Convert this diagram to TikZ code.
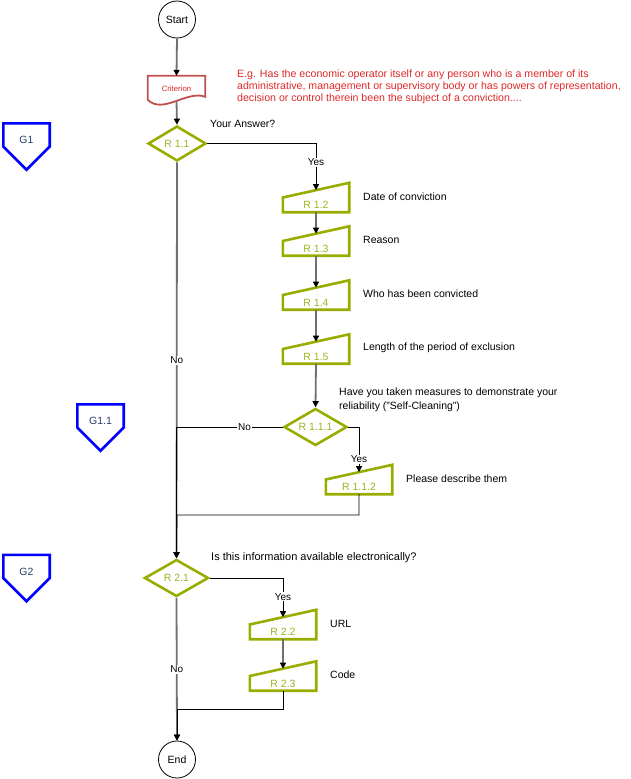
\documentclass[tikz,border=0pt]{standalone}
\usepackage{fontspec}
\setmainfont{Liberation Sans}
\usetikzlibrary{shapes.geometric,arrows.meta,calc}
\definecolor{qolive}{RGB}{153,172,0}
\definecolor{qtxt}{RGB}{155,181,30}
\definecolor{qcrit}{RGB}{192,80,77}
\definecolor{qred}{RGB}{222,40,40}
\definecolor{qblue}{RGB}{0,0,255}
\definecolor{qnavy}{RGB}{40,60,110}
\definecolor{qgray}{RGB}{112,112,112}

\begin{document}
\begin{tikzpicture}[
 x=1pt,y=-1pt,
 every node/.style={font=\fontsize{10.5}{13.5}\selectfont},
 term/.style={draw,circle,minimum size=37pt,inner sep=0pt,line width=.8pt},
 ask/.style={diamond,draw=qolive,line width=2.6pt,minimum width=63pt,minimum height=37pt,
  inner sep=0pt,shape aspect=1.65,text=qtxt},
 inp/.style={minimum width=66pt,minimum height=29pt,inner sep=0pt},
 inpline/.style={draw=qolive,line width=2.6pt},
 rtxt/.style={text=qtxt,inner sep=0pt},
 grp/.style={minimum width=46pt,minimum height=46pt,inner sep=0pt},
 grpline/.style={draw=qblue,line width=2.6pt,line join=miter},
 gtxt/.style={text=qnavy,inner sep=0pt},
 trunk/.style={draw=qgray,line width=1.8pt,-{Triangle[length=6pt,width=6pt,color=black]}},
 conn/.style={line width=.8pt,-{Triangle[length=6pt,width=6pt]}},
 lbl/.style={fill=white,inner sep=1pt,font=\fontsize{10}{12}\selectfont},
 note/.style={anchor=west,align=left,inner sep=0pt},
 ]
 \useasboundingbox (0,0) rectangle (631,779);

 % start / end
 \node[term] (start) at (177,19.5) {Start};
 \node[term] (end) at (177,759.5) {End};

 % criterion
 \node[minimum width=57pt,minimum height=25pt,inner sep=0pt,text=qred,
  font=\fontsize{7.8}{9}\selectfont] (crit) at (176.5,88.5) {Criterion};
 \draw[draw=qcrit,line width=1.8pt] (crit.north west) -- (crit.north east)
  -- ($(crit.north east)+(0,21)$) .. controls +(-18,-7) and +(15,15) .. ($(crit.north west)+(0,24)$)
  -- cycle;
 \node[note,text=qred,font=\fontsize{10.6}{11.8}\selectfont] (hint) at (237,87)
  {E.g. Has the economic operator itself or any person who is a member of its\\
   administrative, management or supervisory body or has powers of representation,\\
   decision or control therein been the subject of a conviction....};

 % questions
 \node[ask,minimum width=58pt,minimum height=35pt] (r11) at (177,143.5) {R 1.1};
 \node[ask] (r111) at (315.5,427) {R 1.1.1};
 \node[ask,minimum width=64pt] (r21) at (176.5,578) {R 2.1};
 \node[note] (q11) at (210,124) {Your Answer?};
 \node[note] (q111) at (339,400) {Have you taken measures to demonstrate your\\reliability ("Self-Cleaning")};
 \node[note,font=\fontsize{11}{13.5}\selectfont] (q21) at (211,558) {Is this information available electronically?};

 % input boxes
 \foreach \nm/\x/\y/\lab/\what in {
  r12/316/197.5/R 1.2/Date of conviction,
  r13/316/241/R 1.3/Reason,
  r14/316/295/R 1.4/Who has been convicted,
  r15/316/349/R 1.5/Length of the period of exclusion,
  r112/359/479.5/R 1.1.2/Please describe them,
  r22/283/624.5/R 2.2/URL,
  r23/283/676/R 2.3/Code} {
  \node[inp,label={[rtxt,yshift=-7.5pt]center:\lab}] (\nm) at (\x,\y) {};
  \draw[inpline] (\nm.south west) -- (\nm.south east) -- (\nm.north east) -- (\nm.west) -- cycle;
  \coordinate (\nm-in) at ($(\nm.north)!.5!(\nm.center)$);
  \node[note] (\nm-t) at (\x+47,\y-1) {\what};
 }

 % groups
 \foreach \nm/\x/\y/\lab in {g1/26.5/146.5/G1,g11/100.5/427.5/G1.1,g2/26.5/578/G2} {
  \node[grp,label={[gtxt,yshift=6.5pt]center:\lab}] (\nm) at (\x,\y) {};
  \draw[grpline] (\nm.north west) -- (\nm.north east) -- (\nm.east) -- (\nm.south) -- (\nm.west) -- cycle;
 }

 \coordinate (j1) at (177,515);
 \coordinate (j2) at (177,709);

 % connectors
 \draw[trunk] (start.south) -- (crit.north);
 \draw[trunk] (crit.south) -- (r11.north);
 \draw[trunk] (r11.south) -- node[lbl]{No} (r21.north);
 \draw[conn] (r11.east) -| node[lbl,pos=.7]{Yes} (r12-in);
 \foreach \a/\b in {r12/r13,r13/r14,r14/r15}
  \draw[trunk] (\a.south) -- (\b-in);
 \draw[trunk] (r15.south) -- (r111.north);
 \draw[conn] (r111.west) -| node[lbl,pos=.18]{No} (r21.north);
 \draw[conn] (r111.east) -| node[lbl,pos=.86]{Yes} (r112-in);
 \draw[conn] (r112.south) |- (j1) -- (r21.north);
 \draw[conn] (r21.east) -| node[lbl,pos=.74]{Yes} (r22-in);
 \draw[trunk] (r22.south) -- (r23-in);
 \draw[trunk] (r21.south) -- node[lbl]{No} (end.north);
 \draw[conn] (r23.south) |- (j2) -- (end.north);
\end{tikzpicture}
\end{document}
